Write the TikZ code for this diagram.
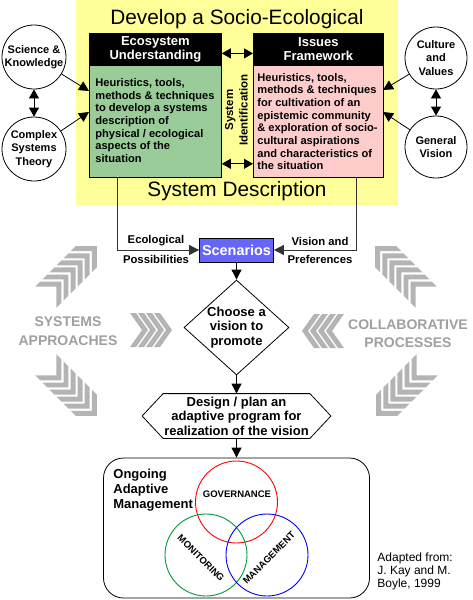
\documentclass[tikz,border=0pt]{standalone}
\usepackage{fontspec}
\setmainfont{Liberation Sans}
\usetikzlibrary{arrows.meta,shapes.geometric}
\definecolor{ylw}{HTML}{FFFF99}
\definecolor{grn}{HTML}{99CC99}
\definecolor{pnk}{HTML}{FFCCCC}
\definecolor{scen}{HTML}{6666FF}
\definecolor{chevgray}{HTML}{B4B4B4}
\definecolor{txtgray}{HTML}{A0A0A0}
\definecolor{vgreen}{HTML}{00993C}
\newcommand\myfs[2]{\fontsize{#1}{#2}\selectfont}
\newcommand\chevstack[9]{%
  \begin{scope}[shift={(#1,#2)},rotate=#3]
  \foreach \k in {1,...,#4}{%
    \pgfmathsetmacro\u{(\k-1)*#5-#9}
    \fill[chevgray] (\u,0) -- (\u-#6,#7) -- (\u-#6-#8,#7) -- (\u-#8,0) -- (\u-#6-#8,-#7) -- (\u-#6,-#7) -- cycle;
  }
  \end{scope}}
\begin{document}
\begin{tikzpicture}[x=1pt,y=-1pt,line width=0.8pt,
  arr/.style={-{Triangle[length=10pt,width=10pt]}},
  darr/.style={{Triangle[length=9pt,width=10pt]}-{Triangle[length=9pt,width=10pt]}},
  hdr/.style={draw,fill=black,text=white,font=\bfseries\myfs{13}{14},align=center,inner sep=0pt},
  bodybox/.style={draw,minimum height=112pt,inner sep=0pt},
  bodytxt/.style={font=\bfseries\myfs{11.1}{12.7},align=left,inner sep=0pt,anchor=west},
  circ/.style={circle,draw,fill=white,minimum size=64pt,inner sep=0pt,align=center,font=\bfseries\myfs{11}{13.5}},
  lbl/.style={font=\bfseries\myfs{11.3}{13},inner sep=0pt},
  flow/.style={font=\bfseries\myfs{13}{14.5},align=center,inner sep=0pt},
  venn/.style={circle,minimum size=82pt,inner sep=0pt,line width=0.9pt},
  vtxt/.style={font=\bfseries\myfs{9.5}{11},inner sep=0pt},
  gtxt/.style={text=txtgray,font=\bfseries\myfs{14}{18.5},align=center,inner sep=0pt},
  conn/.style={draw=black!80}
]
\useasboundingbox (0,0) rectangle (473,600);
\fill[white] (0,0) rectangle (473,600);
% yellow panel
\fill[ylw] (76,0) rectangle (398,205);
\node[anchor=base,font=\myfs{20.8}{24},inner sep=0pt] (t1) at (237,24) {Develop a Socio-Ecological};
\node[anchor=base,font=\myfs{20.8}{24},inner sep=0pt] (t2) at (237,196) {System Description};
% boxes
\node[hdr,anchor=north west,minimum width=132pt,minimum height=32pt] (eh) at (89,33) {Ecosystem\\Understanding};
\node[bodybox,fill=grn,anchor=north west,minimum width=132pt] (eb) at (89,65) {};
\node[bodytxt] (ebt) at (95,120.5)
 {Heuristics, tools,\\methods \& techniques\\to develop a systems\\description of\\physical / ecological\\aspects of the\\situation};
\node[hdr,anchor=north west,minimum width=130pt,minimum height=32pt] (ph) at (253,33) {Issues\\Framework};
\node[bodybox,fill=pnk,anchor=north west,minimum width=130pt] (pb) at (253,65) {};
\node[bodytxt] (pbt) at (257,121.5)
 {Heuristics, tools,\\methods \& techniques\\for cultivation of an\\epistemic community\\\& exploration of socio-\\cultural aspirations\\and characteristics of\\the situation};
\node[rotate=90,font=\bfseries\myfs{11.5}{14.5},align=center,inner sep=0pt] (sid) at (236.5,110) {System\\Identification};
\draw[darr] ([yshift=-4pt]eh.east) -- ([yshift=-4pt]ph.west);
\draw[darr] ([yshift=14pt]eb.south east) -- ([yshift=14pt]pb.south west);
% circles
\node[circ] (sci) at (34,57) {Science \&\\Knowledge};
\node[circ] (cst) at (34,149) {Complex\\Systems\\Theory};
\node[circ,minimum size=62pt] (cv) at (436,58) {Culture\\and\\Values};
\node[circ,minimum size=62pt] (gv) at (436,147) {General\\Vision};
\draw[darr] (sci) -- (cst);
\draw[darr] (cv) -- (gv);
\coordinate (e1) at (89,91);
\coordinate (e2) at (89,112);
\coordinate (p1) at (383,90);
\coordinate (p2) at (383,112);
\draw[arr] (sci) -- (e1);
\draw[arr] (cst) -- (e2);
\draw[arr] (cv) -- (p1);
\draw[arr] (gv) -- (p2);
% scenarios
\node[draw,fill=scen,text=white,font=\bfseries\myfs{14.4}{16},minimum width=74pt,minimum height=24pt,inner sep=0pt] (scn) at (236.5,250) {Scenarios};
\draw[conn,arr] ([xshift=28pt]eb.south west) |- (scn.west);
\draw[conn,arr] ([xshift=-27pt]pb.south east) |- (scn.east);
\node[lbl] (l1) at (156,241) {Ecological};
\node[lbl] (l2) at (156,259) {Possibilities};
\node[lbl] (l3) at (320,241) {Vision and};
\node[lbl] (l4) at (320,259) {Preferences};
% diamond
\node[diamond,draw,shape aspect=1.1,minimum width=105pt,minimum height=95pt,flow] (dia) at (236.5,327.5) {Choose a\\vision to\\promote};
\draw[arr] (scn.south) -- (dia.north);
% hexagon
\node[flow,minimum width=188pt,minimum height=44pt] (hex) at (236.5,416) {Design / plan an\\adaptive program for\\realization of the vision};
\draw (hex.west) -- ([xshift=21pt]hex.north west) -- ([xshift=-21pt]hex.north east) -- (hex.east)
  -- ([xshift=-21pt]hex.south east) -- ([xshift=21pt]hex.south west) -- cycle;
\draw[arr] (dia.south) -- (hex.north);
% adaptive management
\node[draw,rounded corners=20pt,minimum width=266pt,minimum height=140pt] (oam) at (236.5,528) {};
\draw[arr] (hex.south) -- (oam.north);
\node[anchor=north west,align=left,font=\bfseries\myfs{13}{15},inner sep=0pt] (oat) at (113,469) {Ongoing\\Adaptive\\Management};
\node[venn,draw=red] (gov) at (236.5,502) {};
\node[venn,draw=vgreen] (mon) at (206,555) {};
\node[venn,draw=blue] (man) at (267,555) {};
\node[vtxt] (govt) at (237,494) {GOVERNANCE};
\node[vtxt,rotate=-45] (mont) at (201,558) {MONITORING};
\node[vtxt,rotate=45] (mant) at (269,558) {MANAGEMENT};
\node[anchor=north west,align=left,font=\myfs{12}{13.3},inner sep=0pt] (adp) at (377,552) {Adapted from:\\J. Kay and M.\\Boyle, 1999};
% gray side elements
\node[gtxt] (sys) at (68,331) {SYSTEMS\\APPROACHES};
\node[gtxt] (col) at (408,333.5) {COLLABORATIVE\\PROCESSES};
\chevstack{66}{277}{45}{6}{10}{15}{15}{7}{6.5}
\chevstack{66}{385}{-45}{6}{10}{15}{15}{7}{6.5}
\chevstack{151}{330}{0}{4}{8}{12}{17}{6}{3}
\chevstack{406}{277}{135}{6}{10}{15}{15}{7}{6.5}
\chevstack{407}{385}{225}{6}{10}{15}{15}{7}{6.5}
\chevstack{323}{331}{180}{4}{8}{12}{17}{6}{3}
\end{tikzpicture}
\end{document}
